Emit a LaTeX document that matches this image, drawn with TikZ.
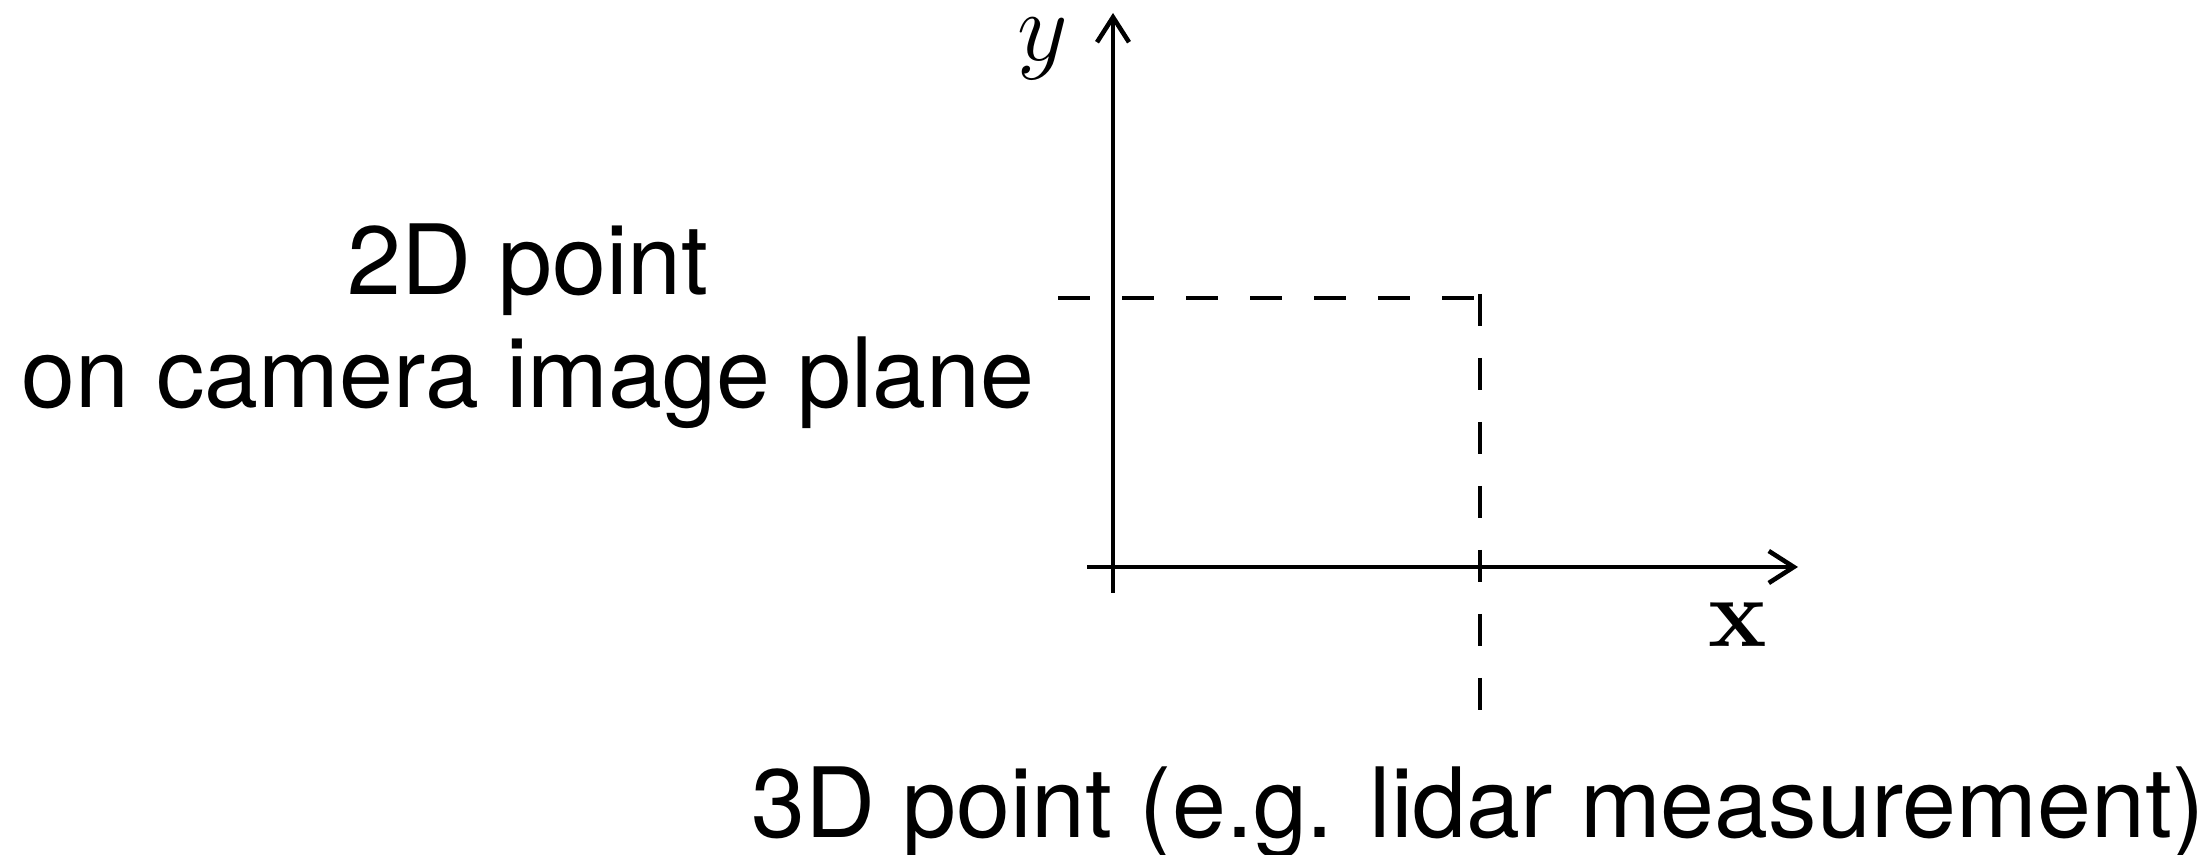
\RequirePackage{fix-cm}
\documentclass[tikz,border=0pt]{standalone}
\usepackage[no-math]{fontspec}
\setmainfont{TeX Gyre Heros}
\usetikzlibrary{arrows.meta}

\begin{document}
\begin{tikzpicture}
\tikzset{
  axis/.style={-{Straight Barb[length=2.5mm,width=3.2mm]}, line width=1.3pt},
  guide/.style={line width=1.3pt, dash pattern=on 3.2mm off 3.2mm},
  caption/.style={font=\fontsize{27.6}{32}\selectfont, align=center, inner sep=0pt},
  axlabel/.style={font=\fontsize{28}{32}\selectfont, inner sep=0pt}
}
\useasboundingbox (0,0) rectangle (22.11,8.55);

\coordinate (ybot) at (11.13,2.62);
\coordinate (ytip) at (11.13,8.42);
\coordinate (xleft) at (10.87,2.88);
\coordinate (xtip) at (17.98,2.88);
\coordinate (hstart) at (10.58,5.57);
\coordinate (proj) at (14.80,5.57);
\coordinate (vtop) at (14.80,5.61);
\coordinate (vend) at (14.80,1.45);

\node[caption] (cam) at (5.28,5.29) {2D point\\on camera image plane};
\node[caption, anchor=base] (lidar) at (14.78,0.17) {3D point (e.g. lidar measurement)};
\node[axlabel] (ylab) at (10.43,8.06) {$y$};
\node[axlabel] (xlab) at (17.38,2.30) {$\mathbf{x}$};

\draw[axis] (ybot) -- (ytip);
\draw[axis] (xleft) -- (xtip);
\draw[guide] (hstart) -- (proj);
\draw[guide] (vtop) -- (vend);
\end{tikzpicture}
\end{document}
